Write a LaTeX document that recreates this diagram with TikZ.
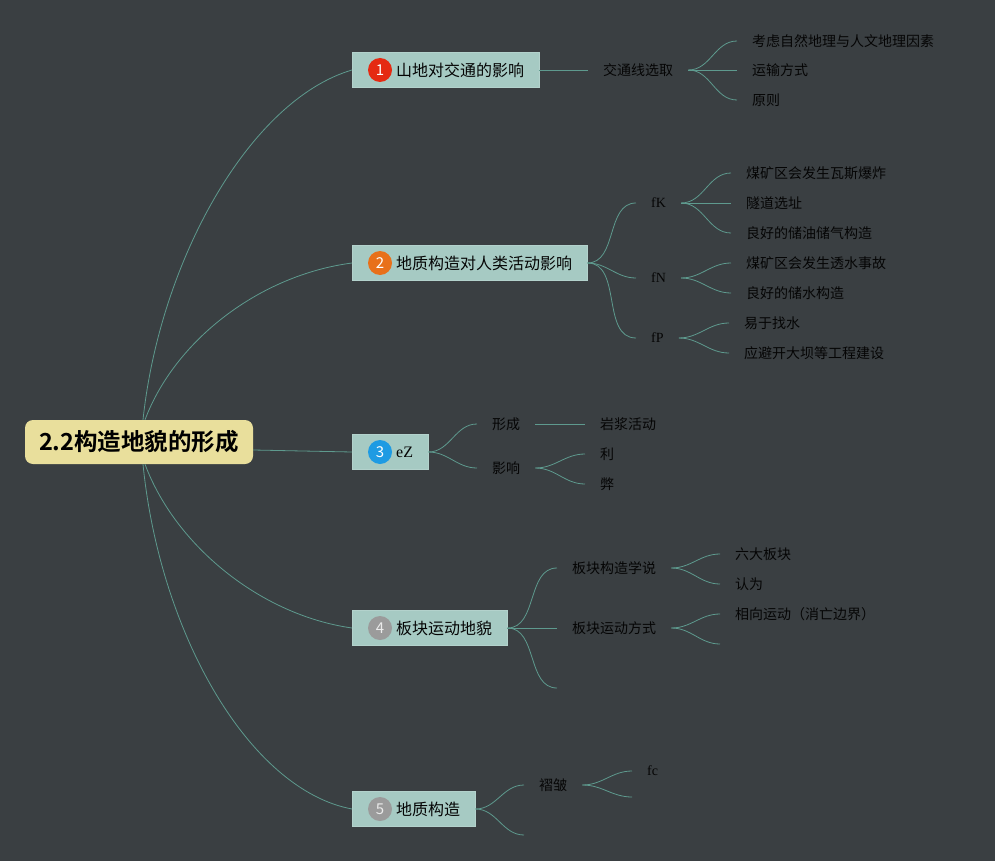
\documentclass[tikz,border=0pt]{standalone}
\usepackage{fontspec}
\setmainfont{Liberation Serif}
\newfontfamily\cjk{Noto Sans CJK SC}[BoldFont={Noto Sans CJK SC Bold}]
\definecolor{bgc}{HTML}{3A3F42}
\definecolor{linkc}{HTML}{5E9A8E}
\definecolor{topicfill}{HTML}{A6CAC3}
\definecolor{rootfill}{HTML}{E9DF9C}
\definecolor{inkc}{HTML}{050505}
\definecolor{numred}{HTML}{E52A12}
\definecolor{numorange}{HTML}{E8701A}
\definecolor{numblue}{HTML}{1E9BE3}
\definecolor{numgray}{HTML}{9B9B9B}
\tikzset{
  root/.style={fill=rootfill, rounded corners=8pt, minimum width=228pt, minimum height=44pt, text=black, font=\cjk\bfseries\fontsize{23.5}{23.5}\selectfont},
  topic/.style={fill=topicfill, draw=topicfill!85!white, minimum height=35pt, inner xsep=15pt, anchor=west, text=inkc, font=\cjk\fontsize{16}{16}\selectfont},
  num/.style={circle, fill=#1, minimum size=24pt, inner sep=0pt, text=white, font=\cjk\fontsize{15}{15}\selectfont},
  sub/.style={inner xsep=15pt, inner ysep=2pt, anchor=west, text=inkc, font=\cjk\fontsize{14}{14}\selectfont},
  subrm/.style={sub, font=\rmfamily\fontsize{14}{14}\selectfont},
  link/.style={draw=linkc, line width=0.8pt},
  fork/.style={out=0, in=180}
}
\begin{document}
\begin{tikzpicture}[x=1pt,y=-1pt]
\fill[bgc] (0,0) rectangle (995,861);
\useasboundingbox (0,0) rectangle (995,861);
\node[root] (root) at (139,442) {2.2构造地貌的形成};
\node[topic] (t1) at (352,70) {\hspace*{29pt}山地对交通的影响};
\node[topic] (t2) at (352,263) {\hspace*{29pt}地质构造对人类活动影响};
\node[topic, font=\rmfamily\fontsize{16}{16}\selectfont] (t3) at (352,452) {\hspace*{29pt}eZ};
\node[topic] (t4) at (352,628) {\hspace*{29pt}板块运动地貌};
\node[topic] (t5) at (352,809) {\hspace*{29pt}地质构造};
\node[num=numred] (n1) at ([xshift=28pt]t1.west) {1};
\node[num=numorange] (n2) at ([xshift=28pt]t2.west) {2};
\node[num=numblue] (n3) at ([xshift=28pt]t3.west) {3};
\node[num=numgray, text=white!80!numgray] (n4) at ([xshift=28pt]t4.west) {4};
\node[num=numgray, text=white!80!numgray] (n5) at ([xshift=28pt]t5.west) {5};
\draw[link] ([xshift=4pt]root.north) .. controls (160,260) and (250,100) .. (t1.west);
\draw[link] ([xshift=6pt]root.north) .. controls (175,340) and (260,275) .. (t2.west);
\draw[link] ([yshift=-8pt]root.east) -- (t3.west);
\draw[link] ([xshift=6pt]root.south) .. controls (175,545) and (260,615) .. (t4.west);
\draw[link] ([xshift=4pt]root.south) .. controls (160,635) and (250,790) .. (t5.west);
\node[sub] (s11) at (588,70) {交通线选取};
\node[sub] (l111) at (737,41) {考虑自然地理与人文地理因素};
\node[sub] (l112) at (737,70) {运输方式};
\node[sub] (l113) at (737,100) {原则};
\draw[link] (t1.east) -- (s11.west);
\draw[link] (s11.east) to[fork] (l111.west);
\draw[link] (s11.east) -- (l112.west);
\draw[link] (s11.east) to[fork] (l113.west);
\node[subrm] (s21) at (636,203) {fK};
\node[subrm] (s22) at (636,278) {fN};
\node[subrm] (s23) at (636,338) {fP};
\node[sub] (l211) at (731,173) {煤矿区会发生瓦斯爆炸};
\node[sub] (l212) at (731,203) {隧道选址};
\node[sub] (l213) at (731,233) {良好的储油储气构造};
\node[sub] (l221) at (731,263) {煤矿区会发生透水事故};
\node[sub] (l222) at (731,293) {良好的储水构造};
\node[sub] (l231) at (729,323) {易于找水};
\node[sub] (l232) at (729,353) {应避开大坝等工程建设};
\draw[link] (t2.east) to[fork] (s21.west);
\draw[link] (t2.east) to[fork] (s22.west);
\draw[link] (t2.east) to[fork] (s23.west);
\draw[link] (s21.east) to[fork] (l211.west);
\draw[link] (s21.east) -- (l212.west);
\draw[link] (s21.east) to[fork] (l213.west);
\draw[link] (s22.east) to[fork] (l221.west);
\draw[link] (s22.east) to[fork] (l222.west);
\draw[link] (s23.east) to[fork] (l231.west);
\draw[link] (s23.east) to[fork] (l232.west);
\node[sub] (s31) at (477,424) {形成};
\node[sub] (s32) at (477,468) {影响};
\node[sub] (l311) at (585,424) {岩浆活动};
\node[sub] (l321) at (585,454) {利};
\node[sub] (l322) at (585,484) {弊};
\draw[link] (t3.east) to[fork] (s31.west);
\draw[link] (t3.east) to[fork] (s32.west);
\draw[link] (s31.east) -- (l311.west);
\draw[link] (s32.east) to[fork] (l321.west);
\draw[link] (s32.east) to[fork] (l322.west);
\node[sub] (s41) at (557,568) {板块构造学说};
\node[sub] (s42) at (557,628) {板块运动方式};
\coordinate (s43) at (557,688);
\node[sub] (l411) at (720,554) {六大板块};
\node[sub] (l412) at (720,584) {认为};
\node[sub] (l421) at (720,614) {相向运动（消亡边界）};
\coordinate (l422) at (720,644);
\draw[link] (t4.east) to[fork] (s41.west);
\draw[link] (t4.east) -- (s42.west);
\draw[link] (t4.east) to[fork] (s43);
\draw[link] (s41.east) to[fork] (l411.west);
\draw[link] (s41.east) to[fork] (l412.west);
\draw[link] (s42.east) to[fork] (l421.west);
\draw[link] (s42.east) to[fork] (l422);
\node[sub] (s51) at (524,785) {褶皱};
\coordinate (s52) at (524,835);
\node[subrm] (l511) at (632,771) {fc};
\coordinate (l512) at (632,797);
\draw[link] (t5.east) to[fork] (s51.west);
\draw[link] (t5.east) to[fork] (s52);
\draw[link] (s51.east) to[fork] (l511.west);
\draw[link] (s51.east) to[fork] (l512);
\end{tikzpicture}
\end{document}
